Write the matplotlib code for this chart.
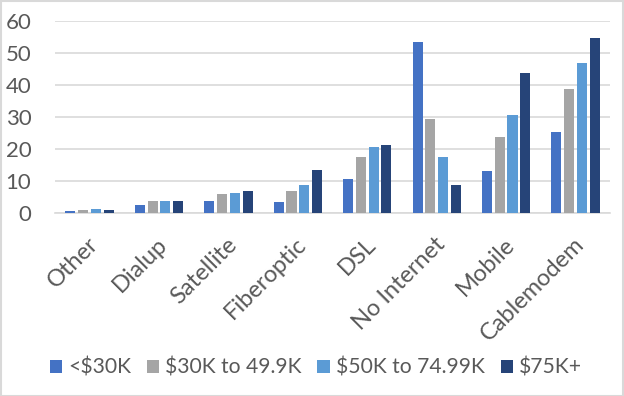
import numpy as np
import matplotlib.pyplot as plt
import matplotlib.transforms as mtransforms
from matplotlib.patches import Rectangle

plt.rcParams['font.family'] = ['Lato', 'DejaVu Sans']

categories = ["Other", "Dialup", "Satellite", "Fiberoptic", "DSL",
              "No Internet", "Mobile", "Cablemodem"]
series_names = ["<$30K", "$30K to 49.9K", "$50K to 74.99K", "$75K+"]
under_30k = [0.7, 2.6, 3.9, 3.5, 10.7, 53.5, 13.2, 25.4]
k30_to_50 = [1.0, 3.9, 6.0, 7.0, 17.6, 29.5, 23.9, 38.9]
k50_to_75 = [1.4, 3.9, 6.4, 8.9, 20.7, 17.6, 30.7, 47.0]
over_75k = [1.0, 3.9, 7.0, 13.5, 21.4, 8.9, 43.9, 54.8]
colors = ["#4472C4", "#A5A5A5", "#5B9BD5", "#264478"]

fig = plt.figure(figsize=(6.24, 3.96), dpi=100)
ax = fig.add_axes([0.088, 0.461, 0.89, 0.485])

x = np.arange(len(categories))
step = 0.184
width = 0.145
all_series = [under_30k, k30_to_50, k50_to_75, over_75k]
for i, vals in enumerate(all_series):
    ax.bar(x + (i - 1.5) * step, vals, width, color=colors[i],
           label=series_names[i], zorder=3)

ax.set_xlim(-0.5, len(categories) - 0.5)
ax.set_ylim(0, 60)
ax.set_yticks(range(0, 61, 10))
ax.yaxis.grid(True, color="#D9D9D9", linewidth=1.2, zorder=0)
for s in ["left", "right", "top"]:
    ax.spines[s].set_visible(False)
ax.spines["bottom"].set_color("#D9D9D9")
ax.spines["bottom"].set_linewidth(1.2)
ax.tick_params(axis="both", length=0, colors="#595959")
ax.tick_params(axis="y", pad=17, labelsize=16)
ax.tick_params(axis="x", pad=20, labelsize=17)
ax.set_xticks(x)
ax.set_xticklabels(categories, rotation=45, ha="right", va="center",
                   rotation_mode="anchor")
shift = mtransforms.ScaledTranslation(5 / 100, 0, fig.dpi_scale_trans)
for lbl in ax.get_xticklabels():
    lbl.set_transform(lbl.get_transform() + shift)

fig.legend(loc="center", bbox_to_anchor=(0.506, 1 - 368 / 396), ncol=4,
           frameon=False, fontsize=15.2, handlelength=0.6, handleheight=0.6,
           handletextpad=0.27, columnspacing=0.75, labelcolor="#595959")

fig.patches.append(Rectangle((0.001, 0.001), 0.997, 0.997, transform=fig.transFigure,
                             fill=False, edgecolor="#D9D9D9", linewidth=1.5))

fig.savefig("out.png", dpi=100)
